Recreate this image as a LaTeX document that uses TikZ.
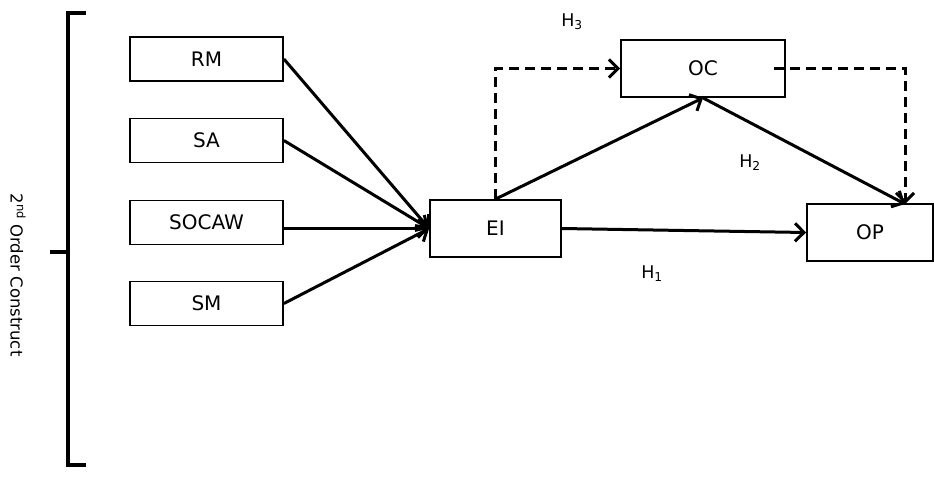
\documentclass[tikz,border=0pt]{standalone}
\usepackage{fontspec}
\setmainfont{DejaVu Sans}
\usetikzlibrary{arrows.meta}
\tikzset{
  box/.style={draw, line width=1.8pt, minimum width=153pt, minimum height=44pt, inner sep=0pt, font=\fontsize{20}{23}\selectfont},
  pfeil/.style={line width=3pt, -{Straight Barb[length=9pt,width=18pt]}},
  strich/.style={pfeil, dash pattern=on 10pt off 6pt},
  hlabel/.style={font=\fontsize{17.5}{20}\selectfont}
}

\begin{document}
\begin{tikzpicture}[x=1pt, y=-1pt]
    \useasboundingbox (0,0) rectangle (934,496);

    % Klammer fuer das Konstrukt zweiter Ordnung
    \draw[line width=3.5pt] (86,13) -- (68,13) -- (68,465) -- (86,465);
    \draw[line width=3.5pt] (68,252) -- (50,252);
    \node[rotate=-90, font=\fontsize{16.5}{19}\selectfont] (konstrukt) at (18,275) {2\textsuperscript{nd} Order Construct};

    % Dimensionen links
    \node[box] (rm) at (206.5,59) {RM};
    \node[box] (sa) at (206.5,140.5) {SA};
    \node[box] (socaw) at (206.5,222.5) {SOCAW};
    \node[box] (sm) at (206.5,303.5) {SM};

    % Hauptkonstrukte
    \node[box, minimum width=131pt, minimum height=57pt] (ei) at (495.5,228.5) {EI};
    \node[box, minimum width=164pt, minimum height=57pt] (oc) at (703,68.5) {OC};
    \node[box, minimum width=126pt, minimum height=57pt] (op) at (870,232.5) {OP};
    \coordinate (opin) at (905,204);

    % Pfeile
    \foreach \d in {rm,sa,sm} {
        \draw[pfeil] (\d.east) -- (ei.west);
    }
    \draw[pfeil] (socaw.east |- ei.west) -- (ei.west);
    \draw[pfeil] (ei.north) -- (oc.south);
    \draw[pfeil] (oc.south) -- (opin);
    \draw[pfeil] (ei.east) -- (op.west);

    % Mediation (gestrichelt)
    \draw[strich] (ei.north) |- (oc.west);
    \draw[strich] ([xshift=-12pt]oc.east) -| (opin);

    % Hypothesen
    \node[hlabel] (h3) at (572,22) {H\textsubscript{3}};
    \node[hlabel] (h2) at (750,163) {H\textsubscript{2}};
    \node[hlabel] (h1) at (652,274) {H\textsubscript{1}};
\end{tikzpicture}
\end{document}
